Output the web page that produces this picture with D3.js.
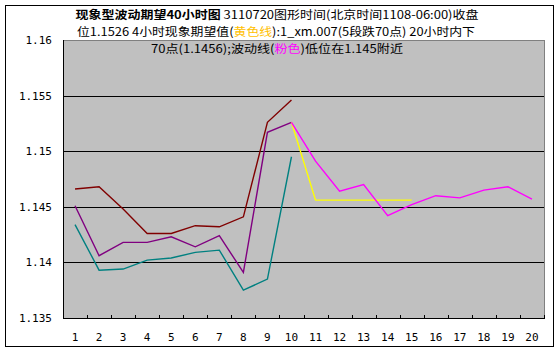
<!DOCTYPE html>
<html>
<head>
<meta charset="utf-8">
<script src="https://cdn.jsdelivr.net/npm/d3@7"></script>
<style>
  body { margin: 0; background: #fff; }
  text { font-family: "Noto Sans CJK SC", sans-serif; }
</style>
</head>
<body>
<div id="chart"></div>
<script>
// categories on the x axis
const hours = ['1', '2', '3', '4', '5', '6', '7', '8', '9', '10',
  '11', '12', '13', '14', '15', '16', '17', '18', '19', '20'];

// y axis ticks
const yTicks = [1.135, 1.14, 1.145, 1.15, 1.155, 1.16];

// series values (null = no point)
const darkRed = [1.1466, 1.1468, 1.1448, 1.1426, 1.1426, 1.1433, 1.1432, 1.1441, 1.1526, 1.1546,
  null, null, null, null, null, null, null, null, null, null];
const purple = [1.1451, 1.1406, 1.1418, 1.1418, 1.1423, 1.1414, 1.1424, 1.1391, 1.1517, 1.1526,
  null, null, null, null, null, null, null, null, null, null];
const teal = [1.1434, 1.1393, 1.1394, 1.1402, 1.1404, 1.1409, 1.1411, 1.1375, 1.1385, 1.1495,
  null, null, null, null, null, null, null, null, null, null];
const yellow = [null, null, null, null, null, null, null, null, null, 1.1526,
  1.1456, 1.1456, 1.1456, 1.1456, 1.1456, null, null, null, null, null];
const pink = [null, null, null, null, null, null, null, null, null, 1.1526,
  1.1491, 1.1464, 1.1470, 1.1442, 1.1452, 1.1460, 1.1458, 1.1465, 1.1468, 1.1457];

const series = [
  { values: darkRed, color: '#800000' },
  { values: purple, color: '#800080' },
  { values: teal, color: '#008080' },
  { values: yellow, color: '#FFFF00' },
  { values: pink, color: '#FF00FF' },
];

const W = 559, H = 351;
const plot = { left: 63, right: 544, top: 40, bottom: 318 };

const svg = d3.select('#chart').append('svg')
  .attr('width', W)
  .attr('height', H);

// outer border
svg.append('rect')
  .attr('x', 5.5).attr('y', 5.5)
  .attr('width', 548).attr('height', 341)
  .attr('fill', '#fff')
  .attr('stroke', '#000');

const x = d3.scaleBand().domain(hours).range([plot.left, plot.right]);
const y = d3.scaleLinear().domain([1.135, 1.16]).range([plot.bottom, plot.top]);

// plot area
svg.append('rect')
  .attr('x', plot.left + 0.5).attr('y', plot.top + 0.5)
  .attr('width', plot.right - plot.left).attr('height', plot.bottom - plot.top)
  .attr('fill', '#C0C0C0')
  .attr('stroke', '#808080');

// gridlines
svg.append('g')
  .selectAll('line')
  .data(yTicks.slice(1, -1))
  .join('line')
  .attr('x1', plot.left).attr('x2', plot.right)
  .attr('y1', d => Math.round(y(d)) + 0.5)
  .attr('y2', d => Math.round(y(d)) + 0.5)
  .attr('stroke', '#000');

// axes lines
svg.append('line')
  .attr('x1', plot.left + 0.5).attr('x2', plot.left + 0.5)
  .attr('y1', plot.top).attr('y2', plot.bottom)
  .attr('stroke', '#000');
svg.append('line')
  .attr('x1', plot.left).attr('x2', plot.right + 1)
  .attr('y1', plot.bottom + 0.5).attr('y2', plot.bottom + 0.5)
  .attr('stroke', '#000');

// x ticks (inside, at category boundaries)
svg.append('g')
  .selectAll('line')
  .data(hours.slice(1).concat(['end']))
  .join('line')
  .attr('x1', (d, i) => Math.round(x(hours[0]) + x.step() * (i + 1)) + 0.5)
  .attr('x2', (d, i) => Math.round(x(hours[0]) + x.step() * (i + 1)) + 0.5)
  .attr('y1', plot.bottom - 3)
  .attr('y2', plot.bottom)
  .attr('stroke', '#000');

// x labels
svg.append('g')
  .selectAll('text')
  .data(hours)
  .join('text')
  .attr('x', d => x(d) + x.bandwidth() / 2)
  .attr('y', 341)
  .attr('text-anchor', 'middle')
  .style('font-family', '"DejaVu Sans Mono", monospace')
  .style('font-size', '11px')
  .text(d => d);

// y labels
svg.append('g')
  .selectAll('text')
  .data(yTicks)
  .join('text')
  .attr('x', 52)
  .attr('y', d => y(d) + 4)
  .attr('text-anchor', 'end')
  .style('font-family', '"DejaVu Sans Mono", monospace')
  .style('font-size', '11px')
  .text(d => d3.format('')(d));

// lines
const line = d3.line()
  .defined(d => d != null)
  .x((d, i) => x(hours[i]) + x.bandwidth() / 2)
  .y(d => y(d));

svg.append('g')
  .selectAll('path')
  .data(series)
  .join('path')
  .attr('fill', 'none')
  .attr('stroke', d => d.color)
  .attr('stroke-width', 1.4)
  .attr('d', d => line(d.values));

// title
const t1 = svg.append('text')
  .attr('x', 277).attr('y', 19)
  .attr('text-anchor', 'middle')
  .style('font-size', '11.5px')
  .attr('textLength', 403).attr('lengthAdjust', 'spacingAndGlyphs');
t1.append('tspan').style('font-weight', 'bold').text('现象型波动期望40小时图');
t1.append('tspan').text('  3110720图形时间(北京时间1108-06:00)收盘');

const t2 = svg.append('text')
  .attr('x', 276).attr('y', 36)
  .attr('text-anchor', 'middle')
  .style('font-size', '11.5px')
  .attr('textLength', 398).attr('lengthAdjust', 'spacingAndGlyphs');
t2.append('tspan').text('位1.1526 4小时现象期望值(');
t2.append('tspan').attr('fill', '#FFC000').text('黄色线');
t2.append('tspan').text('):1_xm.007(5段跌70点)  20小时内下');

const t3 = svg.append('text')
  .attr('x', 277).attr('y', 53)
  .attr('text-anchor', 'middle')
  .style('font-size', '11.5px')
  .attr('textLength', 252).attr('lengthAdjust', 'spacingAndGlyphs');
t3.append('tspan').text('70点(1.1456);波动线(');
t3.append('tspan').attr('fill', '#FF00FF').text('粉色');
t3.append('tspan').text(')低位在1.145附近');
</script>
</body>
</html>
